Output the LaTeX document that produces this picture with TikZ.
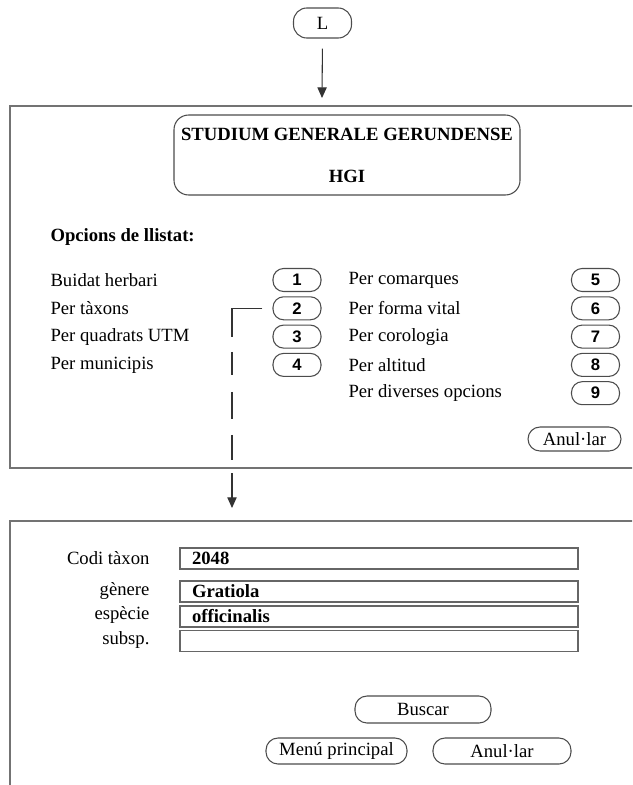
\documentclass[tikz,border=0pt]{standalone}
\usepackage{fontspec}
\setmainfont{Liberation Serif}
\newfontfamily\numfont{Liberation Sans}
\usetikzlibrary{arrows.meta,calc}
\begin{document}
\begin{tikzpicture}[x=0.75pt,y=-0.75pt,line width=0.8pt,
  panel/.style={draw=black!55},
  numbox/.style={draw=black!70, rounded corners=8pt, minimum width=36pt, minimum height=17.25pt, inner sep=0pt, font=\numfont\bfseries\fontsize{12.5}{14}\selectfont},
  lbl/.style={anchor=west, inner sep=0pt, font=\fontsize{14}{16}\selectfont},
  rlbl/.style={anchor=east, inner sep=0pt, font=\fontsize{14}{16}\selectfont},
  btn/.style={draw=black!70, rounded corners=9pt, inner sep=0pt, minimum height=19.5pt, font=\fontsize{14}{16}\selectfont},
  field/.style={draw=black!60, minimum width=298.5pt, minimum height=15.75pt, inner sep=0pt},
  fldtxt/.style={anchor=west, inner sep=0pt, font=\bfseries\fontsize{14}{16}\selectfont},
  conn/.style={draw=black!80, line width=0.8pt},
  tip/.style={-{Triangle[length=8pt,width=7pt]}}
]
\useasboundingbox (0,0) rectangle (632,785);
\clip (0,0) rectangle (632,785);

% start node
\node[btn, minimum width=43.5pt, minimum height=22.5pt, rounded corners=10pt] (L) at (322.5,23) {L};
\coordinate (Lend) at (322,98);
\draw[conn,tip, shorten <=7.5pt] (L.south) -- (Lend);

% top panel
\draw[panel] (660,106) -- (10,106) -- (10,468) -- (660,468);

\node[draw=black!70, rounded corners=11pt, minimum width=259.5pt, minimum height=60pt, align=center,
      font=\bfseries\fontsize{14}{31.5}\selectfont] (title) at (347,155)
      {STUDIUM GENERALE GERUNDENSE\\HGI};

\node[lbl, font=\bfseries\fontsize{14}{16}\selectfont] (opc) at (50,237) {Opcions de llistat:};

\node[lbl] (l1) at (50,280) {Buidat herbari};
\node[lbl] (l2) at (50,308.3) {Per tàxons};
\node[lbl] (l3) at (50,336.6) {Per quadrats UTM};
\node[lbl] (l4) at (50,364.9) {Per municipis};

\node[numbox] (b1) at (297,280) {1};
\node[numbox] (b2) at (297,308.3) {2};
\node[numbox] (b3) at (297,336.6) {3};
\node[numbox] (b4) at (297,364.9) {4};

\node[lbl] (l5) at (348,280) {Per comarques};
\node[lbl] (l6) at (348,308.3) {Per forma vital};
\node[lbl] (l7) at (348,336.6) {Per corologia};
\node[lbl] (l8) at (348,364.9) {Per altitud};
\node[lbl] (l9) at (348,393.2) {Per diverses opcions};

\node[numbox] (b5) at (595.5,280) {5};
\node[numbox] (b6) at (595.5,308.3) {6};
\node[numbox] (b7) at (595.5,336.6) {7};
\node[numbox] (b8) at (595.5,364.9) {8};
\node[numbox] (b9) at (595.5,393.2) {9};

\node[btn, minimum width=69.75pt, minimum height=18pt] (anul1) at (574.5,439) {Anul·lar};

% dashed connector from option 2
\coordinate (dend) at (232,460);
\draw[conn, dash pattern=on 44.25pt off 11.25pt on 17.25pt off 12.75pt on 20.25pt off 12pt on 20.25pt off 50pt]
  ($(b2.west)+(-10,0)$) -| (dend);
\coordinate (a2s) at (232,473);
\coordinate (a2e) at (232,508);
\draw[conn,tip] (a2s) -- (a2e);

% bottom panel
\draw[panel] (660,521) -- (10,521) -- (10,800);

\node[rlbl] (c1) at (150,558) {Codi tàxon};
\node[rlbl] (c2) at (150,591) {gènere};
\node[rlbl] (c3) at (150,615) {espècie};
\node[rlbl] (c4) at (150,640) {subsp.};

\node[field] (f1) at (379,558.5) {};
\node[field] (f2) at (379,591.5) {};
\node[field] (f3) at (379,616.5) {};
\node[field] (f4) at (379,641) {};

\node[fldtxt] (t1) at ($(f1.west)+(12,0)$) {2048};
\node[fldtxt] (t2) at ($(f2.west)+(12,0)$) {Gratiola};
\node[fldtxt] (t3) at ($(f3.west)+(12,0)$) {officinalis};

\node[btn, minimum width=102pt, minimum height=20.25pt] (buscar) at (423,709.5) {Buscar};
\node[btn, minimum width=105.75pt] (menu) at (336.5,751) {Menú principal};
\node[btn, minimum width=103.5pt] (anul2) at (502,751) {Anul·lar};
\end{tikzpicture}
\end{document}
